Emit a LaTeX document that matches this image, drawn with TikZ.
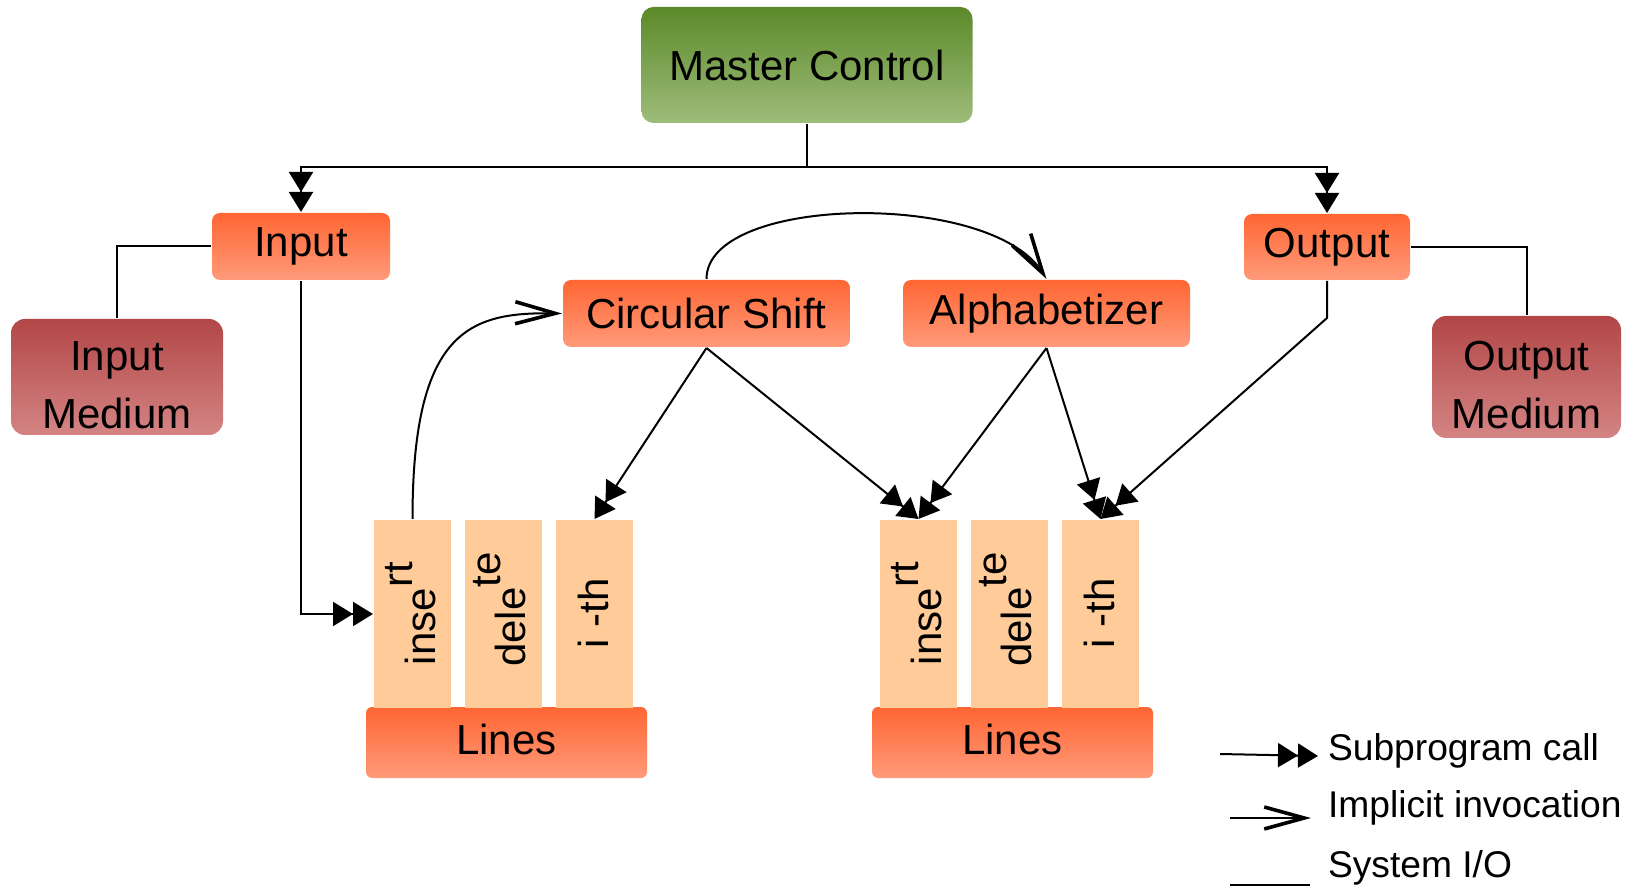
\documentclass[tikz,border=0pt]{standalone}
\usepackage{fontspec}
\setmainfont{Liberation Sans}
\usetikzlibrary{arrows.meta}
\definecolor{mastertop}{RGB}{92,138,42}
\definecolor{masterbot}{RGB}{157,188,122}
\definecolor{modtop}{RGB}{255,102,51}
\definecolor{modbot}{RGB}{255,154,122}
\definecolor{medtop}{RGB}{178,70,70}
\definecolor{medbot}{RGB}{212,132,132}
\definecolor{opfill}{RGB}{255,204,153}
% two-line label set slightly low inside its box
\newcommand{\lowlabel}[2]{\raisebox{-5.5pt}[\height][\depth]{\begin{tabular}{@{}c@{}}#1\\[0pt]#2\end{tabular}}}
\begin{document}
\begin{tikzpicture}[x=0.5pt,y=-0.5pt,
  line width=1pt,
  boxbase/.style={inner sep=0pt, align=center, font=\fontsize{21}{29}\selectfont},
  master/.style={boxbase, rounded corners=6pt, top color=mastertop, bottom color=masterbot,
    minimum width=165.5pt, minimum height=58pt},
  module/.style={boxbase, rounded corners=4pt, top color=modtop, bottom color=modbot},
  medium/.style={boxbase, rounded corners=7pt, top color=medtop, bottom color=medbot},
  opbox/.style={fill=opfill, minimum width=38.5pt, minimum height=94pt, inner sep=0pt},
  optext/.style={inner sep=0pt, rotate=90, anchor=base west, font=\fontsize{21}{25}\selectfont},
  linesbox/.style={boxbase, rounded corners=3pt, top color=modtop, bottom color=modbot,
    minimum width=140.5pt, minimum height=35.5pt},
  legtext/.style={inner sep=0pt, anchor=base west, font=\fontsize{18.6}{22}\selectfont},
  subcall/.style={-{Triangle[length=10pt,width=12pt]Triangle[length=10pt,width=12pt]}},
  implicit/.style={-{Straight Barb[length=20pt,width=11pt,line width=1.8pt]}},
]
\useasboundingbox (0,0) rectangle (1629,887);

% modules
\node[master] (mc) at (807,65) {Master Control};
\node[module, minimum width=89pt, minimum height=33.5pt] (in) at (301,246.5) {Input};
\node[module, minimum width=83pt, minimum height=33pt] (out) at (1327,247) {Output};
\node[medium, minimum width=106pt, minimum height=54pt] (inm) at (117,377) {\lowlabel{Input}{Medium}};
\node[medium, minimum width=94.5pt, minimum height=61pt] (outm) at (1526.5,377) {\lowlabel{Output}{Medium}};
\node[module, minimum width=143.5pt, minimum height=33.5pt] (cs) at (706.5,313.5) {Circular Shift};
\node[module, minimum width=143.5pt, minimum height=33.5pt] (alpha) at (1046.5,313.5) {Alphabetizer};

% Lines data structures with their operations
\node[linesbox] (lines1) at (506.5,742.5) {\raisebox{1.5pt}[\height][\depth]{Lines}};
\node[opbox] (ins1) at (412.5,614) {};
\node[opbox] (del1) at (503.5,614) {};
\node[opbox] (ith1) at (594.5,614) {};
\node[optext] (ins1t) at (435,666) {inse\raisebox{11.5pt}{rt}};
\node[optext] (del1t) at (525,668) {dele\raisebox{12.5pt}{te}};
\node[optext] (ith1t) at (608,649) {i -th};

\node[linesbox] (lines2) at (1012.5,742.5) {\raisebox{1.5pt}[\height][\depth]{Lines}};
\node[opbox] (ins2) at (918.5,614) {};
\node[opbox] (del2) at (1009.5,614) {};
\node[opbox] (ith2) at (1100.5,614) {};
\node[optext] (ins2t) at (941,666) {inse\raisebox{11.5pt}{rt}};
\node[optext] (del2t) at (1031,668) {dele\raisebox{12.5pt}{te}};
\node[optext] (ith2t) at (1114,649) {i -th};

% control calls
\coordinate (bus) at (807,167);
\draw (mc.south) -- (bus);
\draw[subcall] (bus) -| (in.north);
\draw[subcall] (bus) -| (out.north);
\draw[subcall] (in.south) |- (ins1.west);
\draw[subcall] (cs.south) -- (ith1.north);
\draw[subcall] (cs.south) -- (ins2.north);
\draw[subcall] (alpha.south) -- (ins2.north);
\draw[subcall] (alpha.south) -- (ith2.north);
\coordinate (obend) at (1327,318);
\draw[subcall] (out.south) -- (obend) -- (ith2.north);

% system I/O
\draw (in.west) -| (inm.north);
\draw (out.east) -| (outm.north);

% implicit invocations
\draw[implicit] (ins1.north) .. controls (412.5,330) and (470,312) .. (cs.west);
\draw[implicit] (cs.north) .. controls (706.5,195) and (990,190) .. (alpha.north);

% legend
\coordinate (la1) at (1220,754);
\coordinate (lb1) at (1318,756);
\coordinate (la2) at (1230,818);
\coordinate (lb2) at (1311,818);
\coordinate (la3) at (1230,885);
\coordinate (lb3) at (1310,885);
\draw[subcall] (la1) -- (lb1);
\draw[implicit] (la2) -- (lb2);
\draw (la3) -- (lb3);
\node[legtext] (lt1) at (1327,760) {Subprogram call};
\node[legtext] (lt2) at (1327,817) {Implicit invocation};
\node[legtext] (lt3) at (1327,877) {System I/O};
\end{tikzpicture}
\end{document}
